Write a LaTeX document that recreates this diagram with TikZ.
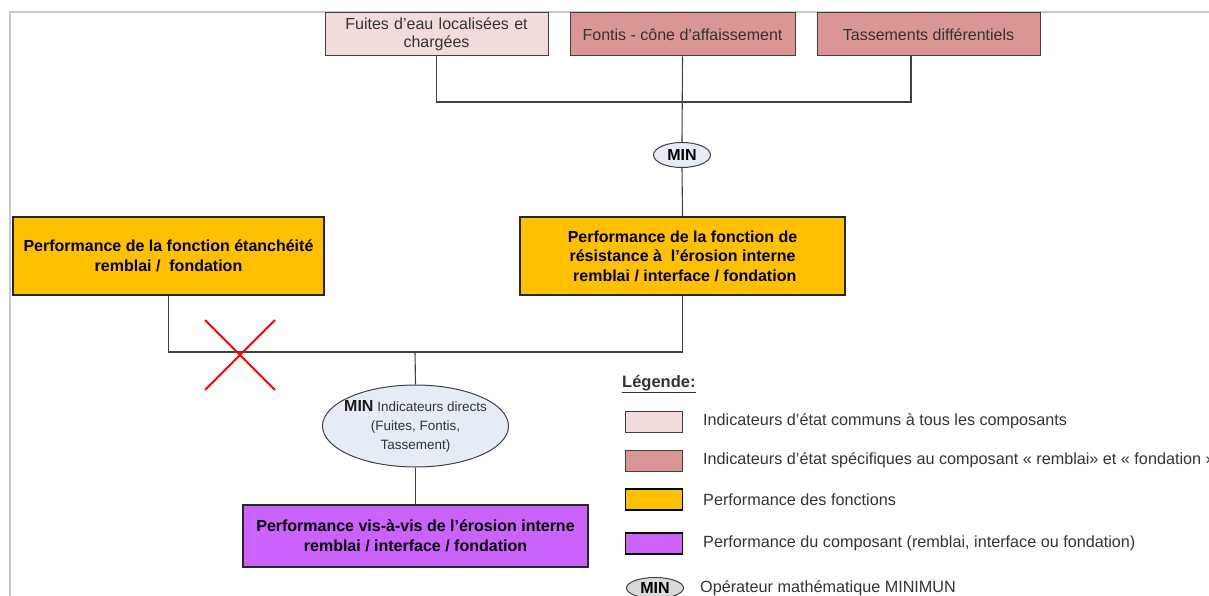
\documentclass[tikz,border=0pt]{standalone}
\usepackage{fontspec}
\setmainfont{Liberation Sans}
\usetikzlibrary{shapes.geometric}
\definecolor{pinkA}{RGB}{242,220,219}
\definecolor{pinkB}{RGB}{217,150,148}
\definecolor{orangeF}{RGB}{255,192,0}
\definecolor{purpleF}{RGB}{204,98,252}
\definecolor{blueE}{RGB}{230,236,246}
\definecolor{greyE}{RGB}{217,217,217}
\definecolor{txt}{RGB}{51,51,51}
\definecolor{edge}{RGB}{64,64,64}
\definecolor{frameC}{RGB}{200,200,200}
\tikzset{
  indbox/.style={draw=edge, line width=1pt, minimum height=43pt, align=center,
    text=txt, font=\fontsize{16}{18.5}\selectfont, inner sep=2pt},
  perfbox/.style={draw=black!85, line width=1.6pt, fill=orangeF, align=center,
    font=\fontsize{16}{19.5}\selectfont\bfseries, inner sep=2pt},
  minop/.style={ellipse, draw=edge, line width=1pt, fill=blueE, inner sep=0pt,
    font=\fontsize{16}{18}\selectfont\bfseries},
  conn/.style={draw=edge, line width=1.1pt},
  swatch/.style={draw=edge, line width=1pt, minimum width=57pt, minimum height=21pt, inner sep=0pt},
  legtxt/.style={anchor=west, text=txt, font=\fontsize{16.2}{18}\selectfont, inner sep=0pt}
}
\begin{document}
\begin{tikzpicture}[x=1pt,y=-1pt]
\useasboundingbox (0,0) rectangle (1209,596);
% frame
\draw[frameC, line width=1.8pt] (10,600) -- (10,12) -- (1212,12);
% indicator boxes
\node[indbox, fill=pinkA, minimum width=223pt, text width=215pt] (b1) at (436.5,34.5) {Fuites d’eau localisées et\\chargées};
\node[indbox, fill=pinkB, minimum width=225pt] (b2) at (682.5,34.5) {Fontis - cône d’affaissement};
\node[indbox, fill=pinkB, minimum width=223pt] (b3) at (928.5,34.5) {Tassements différentiels};
\coordinate (j1) at (682,102);
\node[minop, minimum width=57pt, minimum height=25pt] (m1) at (682,155) {MIN};
% function boxes
\node[perfbox, minimum width=311pt, minimum height=78pt] (o1) at (168.5,256) {Performance de la fonction étanchéité\\remblai /\ \ fondation};
\node[perfbox, minimum width=325pt, minimum height=78pt] (o2) at (682.5,256) {Performance de la fonction de\\résistance à\ \ l’érosion interne\\\ remblai / interface / fondation};
\coordinate (j2) at (415,352);
\node[ellipse, draw=edge, line width=1pt, fill=blueE, minimum width=186pt, minimum height=82pt, inner xsep=-12pt, inner ysep=-6pt, align=center, text=txt, font=\fontsize{13.5}{19}\selectfont] (m2) at (415.5,426)
  {{\fontsize{16}{19}\selectfont\bfseries\color{black!90}MIN} Indicateurs directs\\(Fuites, Fontis,\\Tassement)};
\node[perfbox, fill=purpleF, minimum width=345pt, minimum height=62pt] (p) at (415.5,536) {Performance vis-à-vis de l’érosion interne\\remblai / interface / fondation};
% connectors
\draw[conn] (b1.south) |- (j1);
\draw[conn] ([xshift=-17.5pt]b3.south) |- (j1);
\draw[conn] (b2.south) -- (m1.north);
\draw[conn] (m1.south) -- (o2.north);
\draw[conn] (o1.south) |- (j2);
\draw[conn] (o2.south) |- (j2);
\draw[conn] (j2) -- (m2.north);
\draw[conn] (m2.south) -- (p.north);
% red cross
\draw[red, line width=2pt] (205,320) -- (275,390) (275,320) -- (205,390);
% legend
\node[anchor=west, inner sep=0pt, font=\fontsize{16.5}{18}\selectfont\bfseries, text=txt] (lg) at (622,384) {\underline{Légende:}};
\node[swatch, fill=pinkA] (s1) at (654,421.5) {};
\node[swatch, fill=pinkB] (s2) at (654,460.5) {};
\node[swatch, fill=orangeF, draw=black, line width=1.6pt] (s3) at (654,499.5) {};
\node[swatch, fill=purpleF, draw=black, line width=1.6pt] (s4) at (654,543.5) {};
\node[minop, fill=greyE, minimum width=57pt, minimum height=21pt] (s5) at (655,588) {MIN};
\node[legtxt] (t1) at (703,421.5) {Indicateurs d’état communs à tous les composants};
\node[legtxt] (t2) at (703,460.5) {Indicateurs d’état spécifiques au composant « remblai» et « fondation »};
\node[legtxt] (t3) at (703,499.5) {Performance des fonctions};
\node[legtxt] (t4) at (703,543.5) {Performance du composant (remblai, interface ou fondation)};
\node[legtxt] (t5) at (700,588) {Opérateur mathématique MINIMUN};
\end{tikzpicture}
\end{document}
